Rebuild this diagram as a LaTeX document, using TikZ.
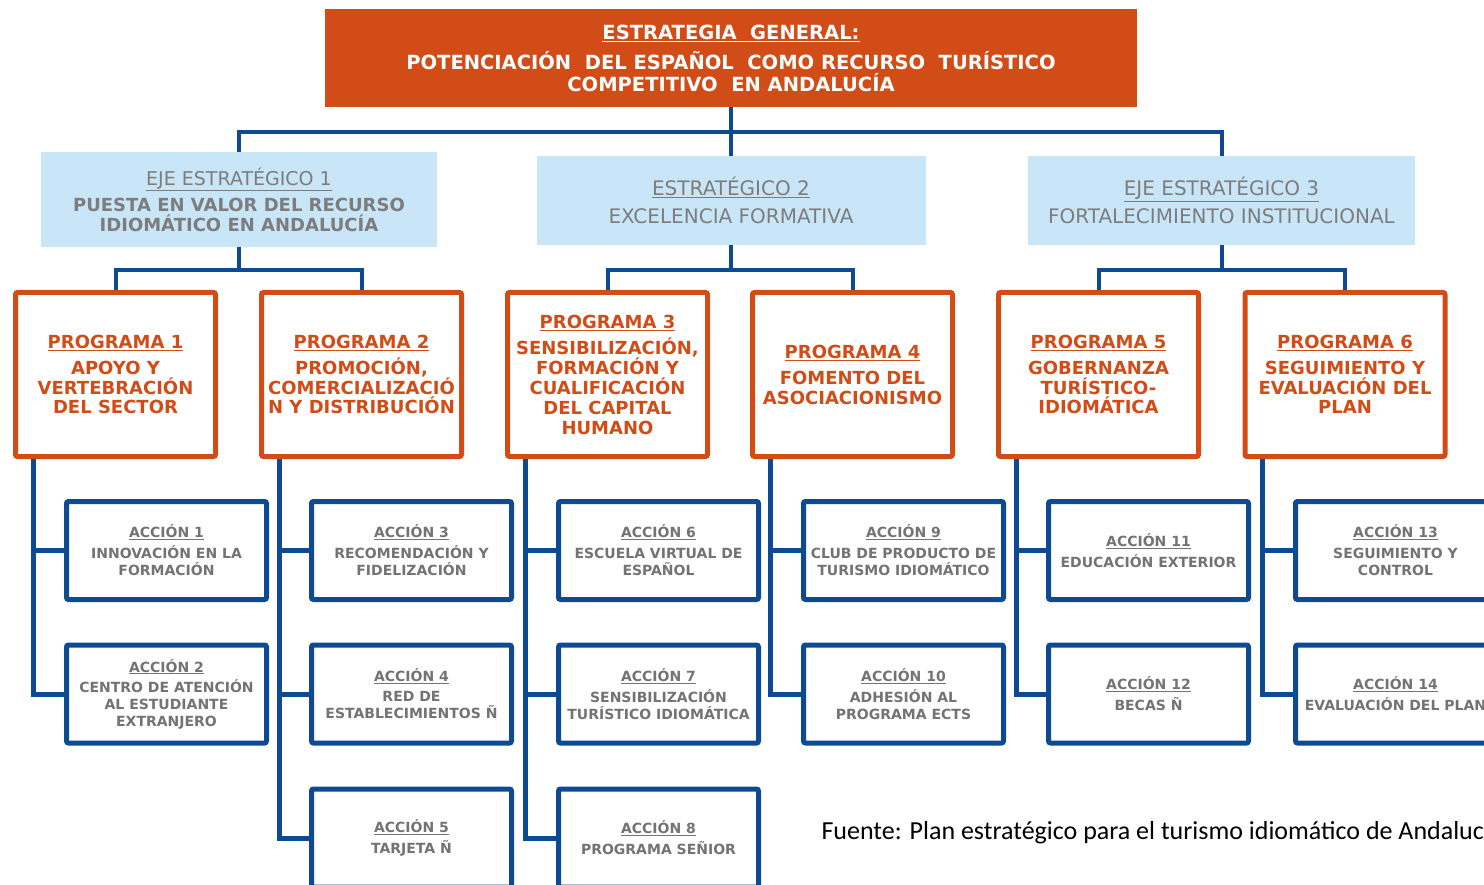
\documentclass[tikz,border=0pt]{standalone}
\usepackage{fontspec}
\setmainfont{DejaVu Sans}
\newfontfamily\fuentefont{Carlito}
\usetikzlibrary{backgrounds}
\definecolor{naranja}{RGB}{210,76,23}
\definecolor{azul}{RGB}{14,74,146}
\definecolor{celeste}{RGB}{200,230,248}
\definecolor{gris}{RGB}{125,125,125}
\definecolor{grisac}{RGB}{115,115,115}
\begin{document}
\begin{tikzpicture}[x=1pt,y=-1pt,
    estrategia/.style={fill=naranja, text=white, font=\bfseries\fontsize{19.5}{22}\selectfont,
      minimum width=812pt, minimum height=98pt, align=center, inner sep=0pt},
    eje/.style={fill=celeste, text=gris, align=center, inner sep=0pt, font=\fontsize{20}{28}\selectfont},
    programa/.style={draw=naranja, line width=5pt, fill=white, text=naranja, rounded corners=2pt,
      font=\bfseries\fontsize{18}{19.5}\selectfont, minimum width=200pt, minimum height=164pt,
      align=center, inner sep=0pt},
    accion/.style={draw=azul, line width=5pt, fill=white, text=grisac, rounded corners=2pt,
      font=\bfseries\fontsize{14}{17}\selectfont, minimum width=200pt, minimum height=98pt,
      align=center, inner sep=0pt},
    enlace/.style={draw=azul, line width=4pt},
    rama/.style={draw=azul, line width=5pt}]
  \useasboundingbox (0,0) rectangle (1484,885);
  \clip (0,0) rectangle (1484,885);

  % estrategia general
  \node[estrategia] (top) at (731,58) {\underline{ESTRATEGIA\ \ GENERAL:}\\[8pt]
    POTENCIACIÓN\ \ DEL ESPAÑOL\ \ COMO RECURSO\ \ TURÍSTICO\\ COMPETITIVO\ \ EN ANDALUCÍA};

  % ejes
  \node[eje, minimum width=396pt, minimum height=95pt, font=\bfseries\fontsize{18}{20}\selectfont] (e1) at (239,199.5)
    {\mdseries\fontsize{19}{20}\selectfont\underline{EJE ESTRATÉGICO 1}\\[6pt]
     PUESTA EN VALOR DEL RECURSO\\ IDIOMÁTICO EN ANDALUCÍA};
  \node[eje, minimum width=389pt, minimum height=89pt] (e2) at (731,200.5)
    {\underline{ESTRATÉGICO 2}\\ EXCELENCIA FORMATIVA};
  \node[eje, minimum width=387pt, minimum height=89pt] (e3) at (1221.5,200.5)
    {\underline{EJE ESTRATÉGICO 3}\\ FORTALECIMIENTO INSTITUCIONAL};

  % programas
  \node[programa] (p1) at (115.5,374.5) {\underline{PROGRAMA 1}\\[7pt] APOYO Y\\ VERTEBRACIÓN\\ DEL SECTOR};
  \node[programa] (p2) at (361.5,374.5) {\underline{PROGRAMA 2}\\[7pt] PROMOCIÓN,\\ COMERCIALIZACIÓ\\ N Y DISTRIBUCIÓN};
  \node[programa, font=\bfseries\fontsize{18}{20}\selectfont] (p3) at (607.5,374.5)
    {\underline{PROGRAMA 3}\\[6pt] SENSIBILIZACIÓN,\\ FORMACIÓN Y\\ CUALIFICACIÓN\\ DEL CAPITAL\\ HUMANO};
  \node[programa] (p4) at (852.5,374.5) {\underline{PROGRAMA 4}\\[7pt] FOMENTO DEL\\ ASOCIACIONISMO};
  \node[programa] (p5) at (1098.5,374.5) {\underline{PROGRAMA 5}\\[7pt] GOBERNANZA\\ TURÍSTICO-\\ IDIOMÁTICA};
  \node[programa] (p6) at (1345,374.5) {\underline{PROGRAMA 6}\\[7pt] SEGUIMIENTO Y\\ EVALUACIÓN DEL\\ PLAN};

  % acciones
  \node[accion] (a1) at (166.5,550.5) {\underline{ACCIÓN 1}\\[4pt] INNOVACIÓN EN LA\\ FORMACIÓN};
  \node[accion] (a2) at (166.5,694) {\underline{ACCIÓN 2}\\[3pt] CENTRO DE ATENCIÓN\\ AL ESTUDIANTE\\ EXTRANJERO};
  \node[accion] (a3) at (411.5,550.5) {\underline{ACCIÓN 3}\\[4pt] RECOMENDACIÓN Y\\ FIDELIZACIÓN};
  \node[accion] (a4) at (411.5,694) {\underline{ACCIÓN 4}\\[3pt] RED DE\\ ESTABLECIMIENTOS Ñ};
  \node[accion] (a5) at (411.5,838) {\underline{ACCIÓN 5}\\[4pt] TARJETA Ñ};
  \node[accion] (a6) at (658.5,550.5) {\underline{ACCIÓN 6}\\[4pt] ESCUELA VIRTUAL DE\\ ESPAÑOL};
  \node[accion] (a7) at (658.5,694) {\underline{ACCIÓN 7}\\[4pt] SENSIBILIZACIÓN\\ TURÍSTICO IDIOMÁTICA};
  \node[accion] (a8) at (658.5,838) {\underline{ACCIÓN 8}\\[4pt] PROGRAMA SEÑIOR};
  \node[accion] (a9) at (903.5,550.5) {\underline{ACCIÓN 9}\\[4pt] CLUB DE PRODUCTO DE\\ TURISMO IDIOMÁTICO};
  \node[accion] (a10) at (903.5,694) {\underline{ACCIÓN 10}\\[4pt] ADHESIÓN AL\\ PROGRAMA ECTS};
  \node[accion] (a11) at (1148.5,550.5) {\underline{ACCIÓN 11}\\[4pt] EDUCACIÓN EXTERIOR};
  \node[accion] (a12) at (1148.5,694) {\underline{ACCIÓN 12}\\[4pt] BECAS Ñ};
  \node[accion] (a13) at (1395.5,550.5) {\underline{ACCIÓN 13}\\[4pt] SEGUIMIENTO Y\\ CONTROL};
  \node[accion] (a14) at (1395.5,694) {\underline{ACCIÓN 14}\\[4pt] EVALUACIÓN DEL PLAN};

  \node[anchor=west, font=\fuentefont\fontsize{26}{29}\selectfont] (fuente) at (818,833)
    {Fuente: Plan estratégico para el turismo idiomático de Andalucía};

  \begin{scope}[on background layer]
    \coordinate (c0) at (731,132);
    \draw[enlace] (top) -- (c0);
    \draw[enlace] (c0) -| (e1);
    \draw[enlace] (c0) -- (e2);
    \draw[enlace] (c0) -| (e3);

    \coordinate (c1) at (239,270);
    \coordinate (c2) at (731,270);
    \coordinate (c3) at (1221.5,270);
    \draw[enlace] (e1) -- (c1);
    \draw[enlace] (e2) -- (c2);
    \draw[enlace] (e3) -- (c3);
    \draw[enlace] (c1) -| (p1);
    \draw[enlace] (c1) -| (p2);
    \draw[enlace] (c2) -| (p3);
    \draw[enlace] (c2) -| (p4);
    \draw[enlace] (c3) -| (p5);
    \draw[enlace] (c3) -| (p6);

    \draw[rama] ([xshift=20pt]p1.south west) |- (a1.west);
    \draw[rama] ([xshift=20pt]p1.south west) |- (a2.west);
    \draw[rama] ([xshift=20pt]p2.south west) |- (a3.west);
    \draw[rama] ([xshift=20pt]p2.south west) |- (a4.west);
    \draw[rama] ([xshift=20pt]p2.south west) |- (a5.west);
    \draw[rama] ([xshift=20pt]p3.south west) |- (a6.west);
    \draw[rama] ([xshift=20pt]p3.south west) |- (a7.west);
    \draw[rama] ([xshift=20pt]p3.south west) |- (a8.west);
    \draw[rama] ([xshift=20pt]p4.south west) |- (a9.west);
    \draw[rama] ([xshift=20pt]p4.south west) |- (a10.west);
    \draw[rama] ([xshift=20pt]p5.south west) |- (a11.west);
    \draw[rama] ([xshift=20pt]p5.south west) |- (a12.west);
    \draw[rama] ([xshift=20pt]p6.south west) |- (a13.west);
    \draw[rama] ([xshift=20pt]p6.south west) |- (a14.west);
  \end{scope}
\end{tikzpicture}
\end{document}
